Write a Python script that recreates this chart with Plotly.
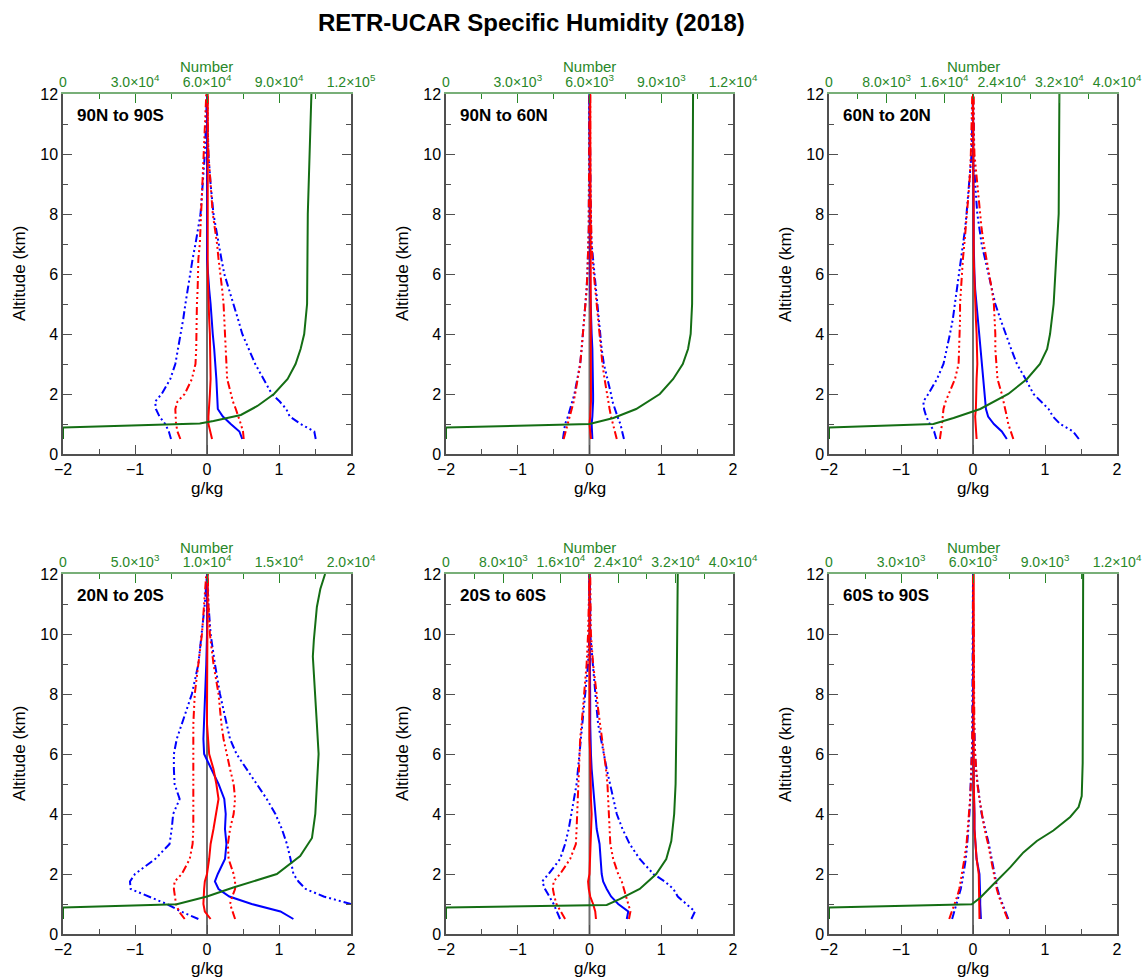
import math
import plotly.graph_objects as go

# ---------------- data ----------------
ALT = [0.5, 0.75, 1.0, 1.25, 1.5, 1.75, 2.0, 2.5, 3.0, 3.5, 4.0, 4.5, 5.0, 5.5,
       6.0, 6.5, 7.0, 7.5, 8.0, 9.0, 10.0, 11.0, 12.0]

REGIONS = ["90N to 90S", "90N to 60N", "60N to 20N",
           "20N to 20S", "20S to 60S", "60S to 90S"]

BLUE_LO = [
    [-0.50, -0.53, -0.58, -0.66, -0.71, -0.72, -0.63, -0.51, -0.44, -0.40, -0.37, -0.33, -0.30, -0.27, -0.24, -0.20, -0.16, -0.12, -0.09, -0.06, -0.03, -0.015, 0.0],
    [-0.37, -0.36, -0.34, -0.30, -0.27, -0.24, -0.21, -0.17, -0.13, -0.11, -0.09, -0.07, -0.05, -0.04, -0.03, -0.02, -0.02, -0.01, -0.01, -0.01, 0.0, 0.0, 0.0],
    [-0.51, -0.54, -0.60, -0.65, -0.68, -0.69, -0.62, -0.50, -0.41, -0.36, -0.32, -0.28, -0.25, -0.22, -0.19, -0.16, -0.13, -0.11, -0.09, -0.05, -0.02, -0.01, 0.0],
    [-0.12, -0.36, -0.56, -0.82, -1.06, -1.07, -1.00, -0.72, -0.52, -0.49, -0.47, -0.38, -0.45, -0.46, -0.46, -0.42, -0.35, -0.28, -0.21, -0.12, -0.07, -0.03, 0.0],
    [-0.41, -0.45, -0.50, -0.56, -0.62, -0.66, -0.57, -0.41, -0.34, -0.29, -0.25, -0.21, -0.18, -0.16, -0.14, -0.12, -0.10, -0.07, -0.05, -0.02, 0.0, 0.0, 0.0],
    [-0.29, -0.26, -0.22, -0.20, -0.17, -0.15, -0.13, -0.10, -0.08, -0.06, -0.05, -0.04, -0.03, -0.02, -0.02, -0.01, -0.01, -0.01, 0.0, 0.0, 0.0, 0.0, 0.0],
]
BLUE_HI = [
    [1.51, 1.49, 1.30, 1.15, 1.10, 1.01, 0.90, 0.79, 0.67, 0.58, 0.49, 0.43, 0.37, 0.30, 0.24, 0.20, 0.16, 0.12, 0.09, 0.05, 0.02, 0.01, 0.0],
    [0.48, 0.46, 0.43, 0.39, 0.35, 0.32, 0.30, 0.25, 0.20, 0.17, 0.15, 0.12, 0.10, 0.08, 0.06, 0.04, 0.03, 0.02, 0.02, 0.01, 0.01, 0.0, 0.0],
    [1.47, 1.39, 1.21, 1.11, 1.05, 0.94, 0.84, 0.73, 0.61, 0.53, 0.45, 0.38, 0.31, 0.26, 0.22, 0.17, 0.12, 0.09, 0.06, 0.03, 0.01, 0.01, 0.0],
    [2.30, 2.15, 2.00, 1.62, 1.37, 1.27, 1.20, 1.16, 1.11, 1.04, 0.95, 0.83, 0.69, 0.55, 0.41, 0.32, 0.27, 0.23, 0.18, 0.11, 0.05, 0.02, 0.0],
    [1.42, 1.47, 1.35, 1.23, 1.17, 1.05, 0.89, 0.70, 0.56, 0.46, 0.38, 0.33, 0.28, 0.24, 0.20, 0.16, 0.12, 0.10, 0.08, 0.04, 0.01, 0.01, 0.0],
    [0.49, 0.45, 0.40, 0.37, 0.34, 0.32, 0.31, 0.26, 0.22, 0.17, 0.12, 0.09, 0.06, 0.04, 0.03, 0.02, 0.02, 0.01, 0.01, 0.01, 0.0, 0.0, 0.0],
]
BLUE_MEAN = [
    [0.49, 0.45, 0.33, 0.22, 0.15, 0.14, 0.14, 0.13, 0.12, 0.10, 0.08, 0.07, 0.05, 0.03, 0.01, 0.0, 0.0, 0.0, 0.0, 0.0, 0.0, 0.0, 0.0],
    [0.04, 0.03, 0.03, 0.04, 0.05, 0.05, 0.05, 0.05, 0.04, 0.04, 0.03, 0.02, 0.02, 0.01, 0.01, 0.01, 0.01, 0.01, 0.01, 0.0, 0.0, 0.0, 0.0],
    [0.47, 0.40, 0.29, 0.21, 0.18, 0.17, 0.16, 0.14, 0.12, 0.10, 0.09, 0.07, 0.05, 0.03, 0.02, 0.01, 0.01, 0.01, 0.01, 0.01, 0.0, 0.0, 0.0],
    [1.20, 1.02, 0.62, 0.31, 0.16, 0.11, 0.15, 0.25, 0.27, 0.25, 0.26, 0.24, 0.16, 0.06, -0.04, -0.05, -0.04, -0.03, -0.02, -0.01, 0.0, 0.0, 0.0],
    [0.52, 0.54, 0.40, 0.30, 0.24, 0.19, 0.17, 0.15, 0.14, 0.10, 0.08, 0.06, 0.04, 0.03, 0.02, 0.01, 0.01, 0.01, 0.01, 0.0, 0.0, 0.0, 0.0],
    [0.11, 0.10, 0.10, 0.10, 0.10, 0.09, 0.09, 0.05, 0.03, 0.02, 0.02, 0.01, 0.01, 0.01, 0.0, 0.0, 0.0, 0.0, 0.0, 0.0, 0.0, 0.0, 0.0],
]
RED_LO = [
    [-0.37, -0.41, -0.43, -0.44, -0.44, -0.41, -0.31, -0.21, -0.16, -0.15, -0.15, -0.14, -0.14, -0.13, -0.13, -0.12, -0.10, -0.09, -0.08, -0.06, -0.04, -0.02, -0.01],
    [-0.36, -0.33, -0.31, -0.27, -0.25, -0.22, -0.20, -0.16, -0.13, -0.11, -0.09, -0.07, -0.05, -0.04, -0.03, -0.02, -0.02, -0.01, -0.01, -0.01, 0.0, 0.0, 0.0],
    [-0.46, -0.44, -0.43, -0.42, -0.41, -0.38, -0.34, -0.25, -0.20, -0.19, -0.19, -0.18, -0.18, -0.17, -0.16, -0.14, -0.12, -0.10, -0.09, -0.05, -0.03, -0.02, -0.01],
    [-0.31, -0.39, -0.43, -0.45, -0.46, -0.45, -0.35, -0.24, -0.20, -0.19, -0.19, -0.19, -0.19, -0.20, -0.20, -0.20, -0.19, -0.18, -0.17, -0.12, -0.07, -0.04, -0.01],
    [-0.34, -0.40, -0.46, -0.49, -0.51, -0.50, -0.41, -0.27, -0.19, -0.18, -0.17, -0.17, -0.16, -0.15, -0.14, -0.13, -0.11, -0.09, -0.08, -0.04, -0.02, -0.01, 0.0],
    [-0.33, -0.29, -0.25, -0.22, -0.19, -0.17, -0.15, -0.12, -0.09, -0.07, -0.05, -0.04, -0.03, -0.02, -0.02, -0.01, -0.01, 0.0, 0.0, 0.0, 0.0, 0.0, 0.0],
]
RED_HI = [
    [0.51, 0.50, 0.47, 0.44, 0.40, 0.36, 0.33, 0.28, 0.27, 0.26, 0.26, 0.25, 0.23, 0.21, 0.18, 0.16, 0.14, 0.11, 0.08, 0.05, 0.02, 0.01, 0.01],
    [0.38, 0.35, 0.33, 0.30, 0.28, 0.26, 0.24, 0.21, 0.18, 0.16, 0.14, 0.11, 0.09, 0.07, 0.05, 0.04, 0.03, 0.02, 0.02, 0.01, 0.01, 0.01, 0.01],
    [0.56, 0.52, 0.49, 0.47, 0.45, 0.42, 0.40, 0.34, 0.32, 0.31, 0.31, 0.30, 0.29, 0.26, 0.22, 0.18, 0.15, 0.12, 0.10, 0.05, 0.02, 0.01, 0.01],
    [0.39, 0.35, 0.32, 0.35, 0.39, 0.39, 0.37, 0.30, 0.29, 0.32, 0.37, 0.39, 0.37, 0.32, 0.27, 0.23, 0.20, 0.18, 0.16, 0.09, 0.04, 0.02, 0.01],
    [0.55, 0.57, 0.54, 0.51, 0.49, 0.45, 0.40, 0.33, 0.29, 0.28, 0.28, 0.27, 0.25, 0.23, 0.20, 0.18, 0.15, 0.12, 0.10, 0.05, 0.02, 0.01, 0.01],
    [0.48, 0.44, 0.39, 0.36, 0.33, 0.31, 0.30, 0.25, 0.21, 0.16, 0.12, 0.09, 0.06, 0.04, 0.03, 0.02, 0.02, 0.01, 0.01, 0.01, 0.01, 0.0, 0.0],
]
RED_MEAN = [
    [0.07, 0.04, 0.02, 0.02, 0.03, 0.03, 0.04, 0.05, 0.05, 0.05, 0.04, 0.03, 0.02, 0.02, 0.01, 0.01, 0.01, 0.01, 0.01, 0.01, 0.01, 0.01, 0.01],
    [0.02, 0.01, 0.0, 0.01, 0.02, 0.02, 0.02, 0.02, 0.02, 0.02, 0.02, 0.02, 0.02, 0.01, 0.01, 0.01, 0.01, 0.01, 0.01, 0.01, 0.01, 0.01, 0.01],
    [0.05, 0.04, 0.03, 0.03, 0.04, 0.04, 0.05, 0.05, 0.06, 0.06, 0.05, 0.04, 0.03, 0.02, 0.01, 0.01, 0.01, 0.01, 0.01, 0.01, 0.01, 0.0, 0.0],
    [0.05, -0.03, -0.05, -0.05, -0.04, -0.03, 0.0, 0.03, 0.05, 0.09, 0.13, 0.16, 0.13, 0.09, 0.03, 0.01, 0.0, 0.0, 0.0, 0.0, 0.0, 0.0, 0.01],
    [0.09, 0.08, 0.05, 0.01, -0.01, -0.02, 0.0, 0.01, 0.02, 0.03, 0.03, 0.02, 0.02, 0.01, 0.01, 0.0, 0.0, 0.0, 0.0, 0.0, 0.0, 0.0, 0.0],
    [0.09, 0.09, 0.09, 0.09, 0.09, 0.08, 0.08, 0.05, 0.03, 0.02, 0.02, 0.01, 0.01, 0.01, 0.01, 0.01, 0.01, 0.01, 0.01, 0.01, 0.01, 0.01, 0.01],
]

GREEN_ALT = [
    [0.5, 0.88, 1.02, 1.1, 1.3, 1.6, 2.0, 2.5, 3.0, 3.5, 4.0, 4.5, 5.0, 8.0, 11.0, 12.0],
    [0.5, 0.88, 1.0, 1.2, 1.5, 2.0, 2.5, 3.0, 3.5, 4.0, 5.0, 8.0, 12.0],
    [0.5, 0.88, 1.0, 1.2, 1.5, 2.0, 2.5, 3.0, 3.5, 4.0, 5.0, 6.0, 7.0, 8.0, 12.0],
    [0.5, 0.88, 0.99, 1.25, 1.55, 2.0, 2.6, 3.2, 4.0, 5.0, 6.0, 7.0, 7.9, 8.6, 9.25, 9.8, 10.9, 11.5, 12.0],
    [0.5, 0.88, 0.97, 1.16, 1.5, 2.0, 2.5, 3.1, 4.0, 5.0, 6.8, 12.0],
    [0.5, 0.88, 0.99, 1.21, 1.66, 2.22, 2.72, 3.1, 3.45, 3.9, 4.23, 4.6, 5.7, 12.0],
]
GREEN_NUM = [
    [0, 0, 57000, 62700, 74100, 81000, 87900, 93600, 96900, 99000, 100500, 101100, 101700, 102000, 102900, 103500],
    [0, 0, 6000, 7000, 7950, 8940, 9500, 9900, 10120, 10230, 10290, 10310, 10330],
    [0, 0, 14500, 17300, 21000, 24900, 27500, 29300, 30300, 30700, 31200, 31400, 31700, 31900, 32000],
    [0, 0, 7900, 10000, 11830, 14850, 16470, 17290, 17520, 17630, 17750, 17630, 17520, 17450, 17350, 17420, 17630, 17870, 18200],
    [0, 0, 22400, 24200, 27000, 29300, 30700, 31400, 31800, 32000, 32100, 32300],
    [0, 0, 5950, 6300, 6850, 7550, 8100, 8660, 9350, 10050, 10400, 10530, 10570, 10590],
]

NUMBER_TICKS = [
    [0, 30000, 60000, 90000, 120000],
    [0, 3000, 6000, 9000, 12000],
    [0, 8000, 16000, 24000, 32000, 40000],
    [0, 5000, 10000, 15000, 20000],
    [0, 8000, 16000, 24000, 32000, 40000],
    [0, 3000, 6000, 9000, 12000],
]
GKG_TICKS = [-2, -1, 0, 1, 2]
ALT_TICKS = [0, 2, 4, 6, 8, 10, 12]

TITLE = "RETR-UCAR Specific Humidity (2018)"

# ---------------- styling / layout ----------------
W, H = 1147, 979
FONT = "Liberation Sans, Arial, Helvetica, sans-serif"
BLUE = "rgb(0,0,255)"
RED = "rgb(255,0,0)"
GREEN = "rgb(20,110,20)"
GREEN_TXT = "rgb(40,135,40)"
GREEN_AX = "rgb(120,175,120)"
FRAME = "rgb(80,80,80)"
DASH = "8px,3px,2px,3px,2px,3px,2px,3px"

COLS = [(63, 351), (446, 733), (829, 1117)]
ROWS = [(94, 454), (574, 934)]


def fmt_num(v):
    if v == 0:
        return "0"
    e = int(math.floor(math.log10(v) + 1e-9))
    m = v / 10 ** e
    return f"{m:.1f}×10<sup>{e}</sup>"


fig = go.Figure()
layout = dict(
    width=W, height=H,
    margin=dict(l=0, r=0, t=0, b=0),
    paper_bgcolor="white", plot_bgcolor="white",
    showlegend=False,
    font=dict(family=FONT, color="black"),
)
annotations = []
shapes = []

for k in range(6):
    r, c = divmod(k, 3)
    c0, c1 = COLS[c]
    r0, r1 = ROWS[r]
    xdom = [c0 / W, c1 / W]
    ydom = [1 - r1 / H, 1 - r0 / H]
    xb = "x" if k == 0 else f"x{2 * k + 1}"
    xt = f"x{2 * k + 2}"
    yy = "y" if k == 0 else f"y{k + 1}"
    xb_key = "xaxis" if k == 0 else f"xaxis{2 * k + 1}"
    xt_key = f"xaxis{2 * k + 2}"
    y_key = "yaxis" if k == 0 else f"yaxis{k + 1}"

    layout[xb_key] = dict(
        domain=xdom, anchor=yy, range=[-2, 2], tickmode="array", tickvals=GKG_TICKS,
        ticks="inside", ticklen=9, tickwidth=1.3, tickcolor=FRAME,
        showline=True, linecolor=FRAME, linewidth=1.5, mirror=False,
        showgrid=False, zeroline=False, automargin=False, fixedrange=True,
        tickfont=dict(size=16, family=FONT, color="black"),
        minor=dict(ticks="inside", ticklen=5, tick0=0, dtick=0.5, tickcolor=FRAME, tickwidth=1.3,
                   showgrid=False),
    )
    ticks = NUMBER_TICKS[k]
    step = ticks[1] - ticks[0]
    layout[xt_key] = dict(
        domain=xdom, anchor=yy, overlaying=xb, side="top",
        range=[ticks[0], ticks[-1]], tickmode="array", tickvals=ticks,
        ticktext=[fmt_num(v) for v in ticks],
        ticks="inside", ticklen=9, tickwidth=1.3, tickcolor=GREEN_TXT,
        showline=True, linecolor=GREEN_AX, linewidth=1.5,
        showgrid=False, zeroline=False, automargin=False, fixedrange=True,
        tickfont=dict(size=14, family=FONT, color=GREEN_TXT),
        minor=dict(ticks="inside", ticklen=5, tick0=0, dtick=step / 2, tickcolor=GREEN_TXT,
                   tickwidth=1.3, showgrid=False),
    )
    layout[y_key] = dict(
        domain=ydom, anchor=xb, range=[0, 12], tickmode="array", tickvals=ALT_TICKS,
        ticks="inside", ticklen=9, tickwidth=1.3, tickcolor=FRAME,
        showline=True, linecolor=FRAME, linewidth=1.5, mirror="ticks",
        showgrid=False, zeroline=False, automargin=False, fixedrange=True,
        tickfont=dict(size=16, family=FONT, color="black"),
        minor=dict(ticks="inside", ticklen=5, tick0=0, dtick=1, tickcolor=FRAME, tickwidth=1.3,
                   showgrid=False),
    )

    # zero reference line
    shapes.append(dict(type="line", xref=xb, yref=f"{yy} domain", x0=0, x1=0, y0=0, y1=1,
                       line=dict(color="rgb(110,110,110)", width=2), layer="below"))

    series = [
        (BLUE_LO[k], BLUE, DASH), (BLUE_HI[k], BLUE, DASH), (BLUE_MEAN[k], BLUE, "solid"),
        (RED_LO[k], RED, DASH), (RED_HI[k], RED, DASH), (RED_MEAN[k], RED, "solid"),
    ]
    for vals, col, dash in series:
        fig.add_trace(go.Scatter(x=vals, y=ALT, mode="lines", xaxis=xb, yaxis=yy,
                                 line=dict(color=col, width=2, dash=dash),
                                 hoverinfo="skip"))
    fig.add_trace(go.Scatter(x=GREEN_NUM[k], y=GREEN_ALT[k], mode="lines", xaxis=xt, yaxis=yy,
                             line=dict(color=GREEN, width=2), hoverinfo="skip"))

    xc = (c0 + c1) / 2 / W
    annotations.append(dict(text="Number", x=xc, y=1 - (r0 - 27) / H, xref="paper", yref="paper",
                            showarrow=False, xanchor="center", yanchor="middle",
                            font=dict(size=15, family=FONT, color=GREEN_TXT)))
    annotations.append(dict(text="g/kg", x=xc, y=1 - (r1 + 34) / H, xref="paper", yref="paper",
                            showarrow=False, xanchor="center", yanchor="middle",
                            font=dict(size=17, family=FONT, color="black")))
    annotations.append(dict(text="Altitude (km)", x=(c0 - 44) / W, y=1 - (r0 + r1) / 2 / H,
                            xref="paper", yref="paper", textangle=-90,
                            showarrow=False, xanchor="center", yanchor="middle",
                            font=dict(size=17, family=FONT, color="black")))
    annotations.append(dict(text=f"<b>{REGIONS[k]}</b>", x=(c0 + 12) / W, y=1 - (r0 + 21) / H,
                            xref="paper", yref="paper",
                            showarrow=False, xanchor="left", yanchor="middle",
                            font=dict(size=17, family=FONT, color="black")))

annotations.append(dict(text=f"<b>{TITLE}</b>", x=531 / W, y=1 - 22 / H, xref="paper", yref="paper",
                        showarrow=False, xanchor="center", yanchor="middle",
                        font=dict(size=24, family=FONT, color="black")))

layout["annotations"] = annotations
layout["shapes"] = shapes
fig.update_layout(**layout)

fig.write_html("out.html")
